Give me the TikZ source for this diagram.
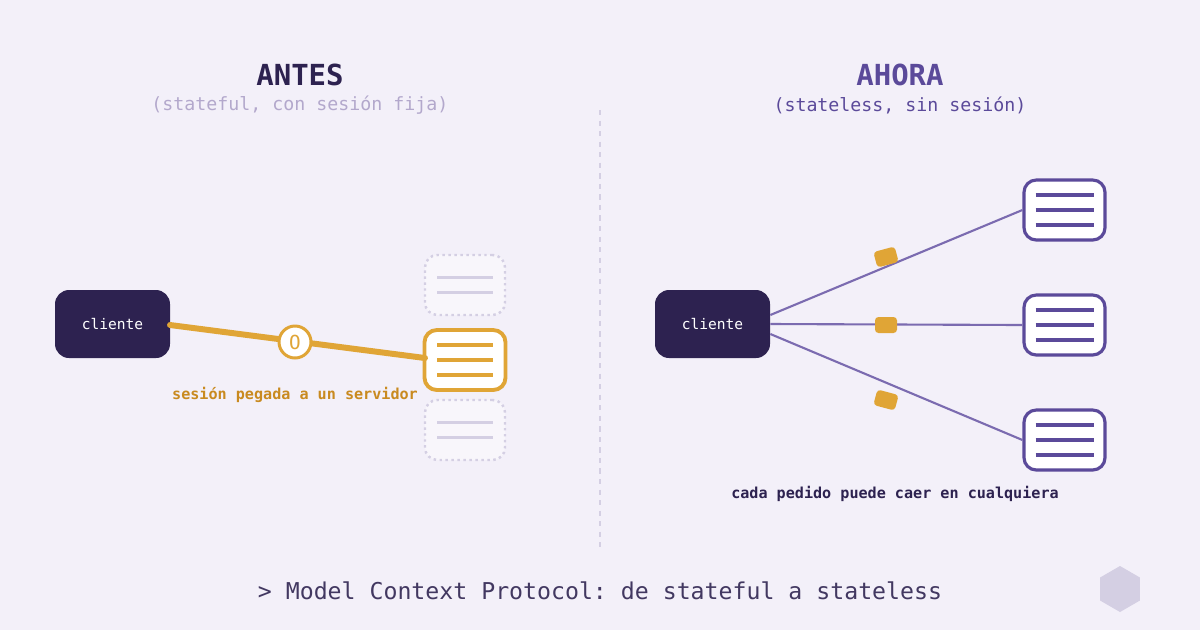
\documentclass[tikz,border=0pt]{standalone}
\usepackage{fontspec}
\setmonofont{DejaVu Sans Mono}
\usetikzlibrary{positioning, shapes.geometric}
\definecolor{bgc}{HTML}{F3F0F9}
\definecolor{ink}{HTML}{2D2250}
\definecolor{violet}{HTML}{5B4A9A}
\definecolor{wire}{HTML}{7B6BB0}
\definecolor{amber}{HTML}{E0A536}
\definecolor{amberdk}{HTML}{C98A20}
\definecolor{ghost}{HTML}{D4CFE3}
\definecolor{pale}{HTML}{B3A8CC}
\tikzset{
  client/.style={rectangle, rounded corners=8, fill=ink, text=white, minimum width=115*0.02cm, minimum height=68*0.02cm, font=\ttfamily\fontsize{8.3}{9}\selectfont},
  server/.style={rectangle, rounded corners=7, fill=white, draw=violet, line width=1.8pt, minimum width=81*0.02cm, minimum height=60*0.02cm},
  ghostsrv/.style={rectangle, rounded corners=7, fill=bgc!60!white, draw=ghost, line width=1.4pt, dotted, minimum width=80*0.02cm, minimum height=60*0.02cm},
  packet/.style={rectangle, rounded corners=2, fill=amber, minimum width=22*0.02cm, minimum height=16*0.02cm},
}
\begin{document}
\begin{tikzpicture}[x=0.02cm, y=-0.02cm]
\fill[bgc] (0,0) rectangle (1200,630);
\useasboundingbox (0,0) rectangle (1200,630);

% headings
\node (antes) [font=\ttfamily\bfseries\fontsize{16.5}{18}\selectfont, text=ink] at (300,75) {ANTES};
\node (antessub) [font=\ttfamily\fontsize{10.4}{12}\selectfont, text=pale] at (300,105) {(stateful, con sesión fija)};
\node (ahora) [font=\ttfamily\bfseries\fontsize{16.5}{18}\selectfont, text=violet] at (900,75) {AHORA};
\node (ahorasub) [font=\ttfamily\fontsize{10.4}{12}\selectfont, text=violet] at (900,105) {(stateless, sin sesión)};
\draw[ghost, dashed, line width=1pt] (600,110) -- (600,550);

% left side
\node (cl) [client] at (112.5,324) {cliente};
\node (g1) [ghostsrv] at (465,285) {};
\node (g2) [ghostsrv] at (465,430) {};
\node (s0) [server, draw=amber, line width=2.2pt] at (465,360) {};
\foreach \g in {g1,g2}
  \foreach \d in {-7.5,7.5}
    \draw[ghost, line width=1.4pt] ([xshift=-28*0.02cm, yshift=-\d*0.02cm]\g.center) -- ++(56,0);
\foreach \d in {-15,0,15}
  \draw[amber, line width=1.8pt] ([xshift=-28*0.02cm, yshift=-\d*0.02cm]s0.center) -- ++(56,0);
\coordinate (clout) at (170,325);
\coordinate (s0in) at (425,358);
\draw[amber, line width=3.4pt, line cap=round] (clout) -- (s0in);
\node (tok) [circle, fill=white, draw=amber, line width=1.7pt, minimum size=32*0.02cm, inner sep=0pt, text=amber, font=\ttfamily\fontsize{11}{12}\selectfont] at (295,342) {O};
\node (stick) [font=\ttfamily\bfseries\fontsize{8.6}{10}\selectfont, text=amberdk] at (295,395) {sesión pegada a un servidor};

% right side
\node (cr) [client] at (712.5,324) {cliente};
\node (r1) [server] at (1064.5,210) {};
\node (r2) [server] at (1064.5,325) {};
\node (r3) [server] at (1064.5,440) {};
\foreach \r in {r1,r2,r3}
  \foreach \d in {-15,0,15}
    \draw[violet, line width=1.8pt] ([xshift=-29*0.02cm, yshift=-\d*0.02cm]\r.center) -- ++(58,0);
\draw[wire, line width=1.2pt] ([yshift=9*0.02cm]cr.east) -- (r1.west);
\draw[wire, line width=1.2pt] (cr.east) -- (r2.west);
\draw[wire, line width=1.2pt] ([yshift=-10*0.02cm]cr.east) -- (r3.west);
\node (p1) [packet, rotate=15] at (886,257) {};
\node (p2) [packet] at (886,325) {};
\node (p3) [packet, rotate=-15] at (886,400) {};
\node (any) [font=\ttfamily\bfseries\fontsize{8.6}{10}\selectfont, text=ink] at (895,494) {cada pedido puede caer en cualquiera};

% footer
\node (foot) [font=\ttfamily\fontsize{13.2}{16}\selectfont, text=ink!90!white] at (600,591) {> Model Context Protocol: de stateful a stateless};
\node (hex) [regular polygon, regular polygon sides=6, shape border rotate=30, fill=ghost, minimum size=46*0.02cm, inner sep=0pt] at (1120,589) {};
\end{tikzpicture}
\end{document}
